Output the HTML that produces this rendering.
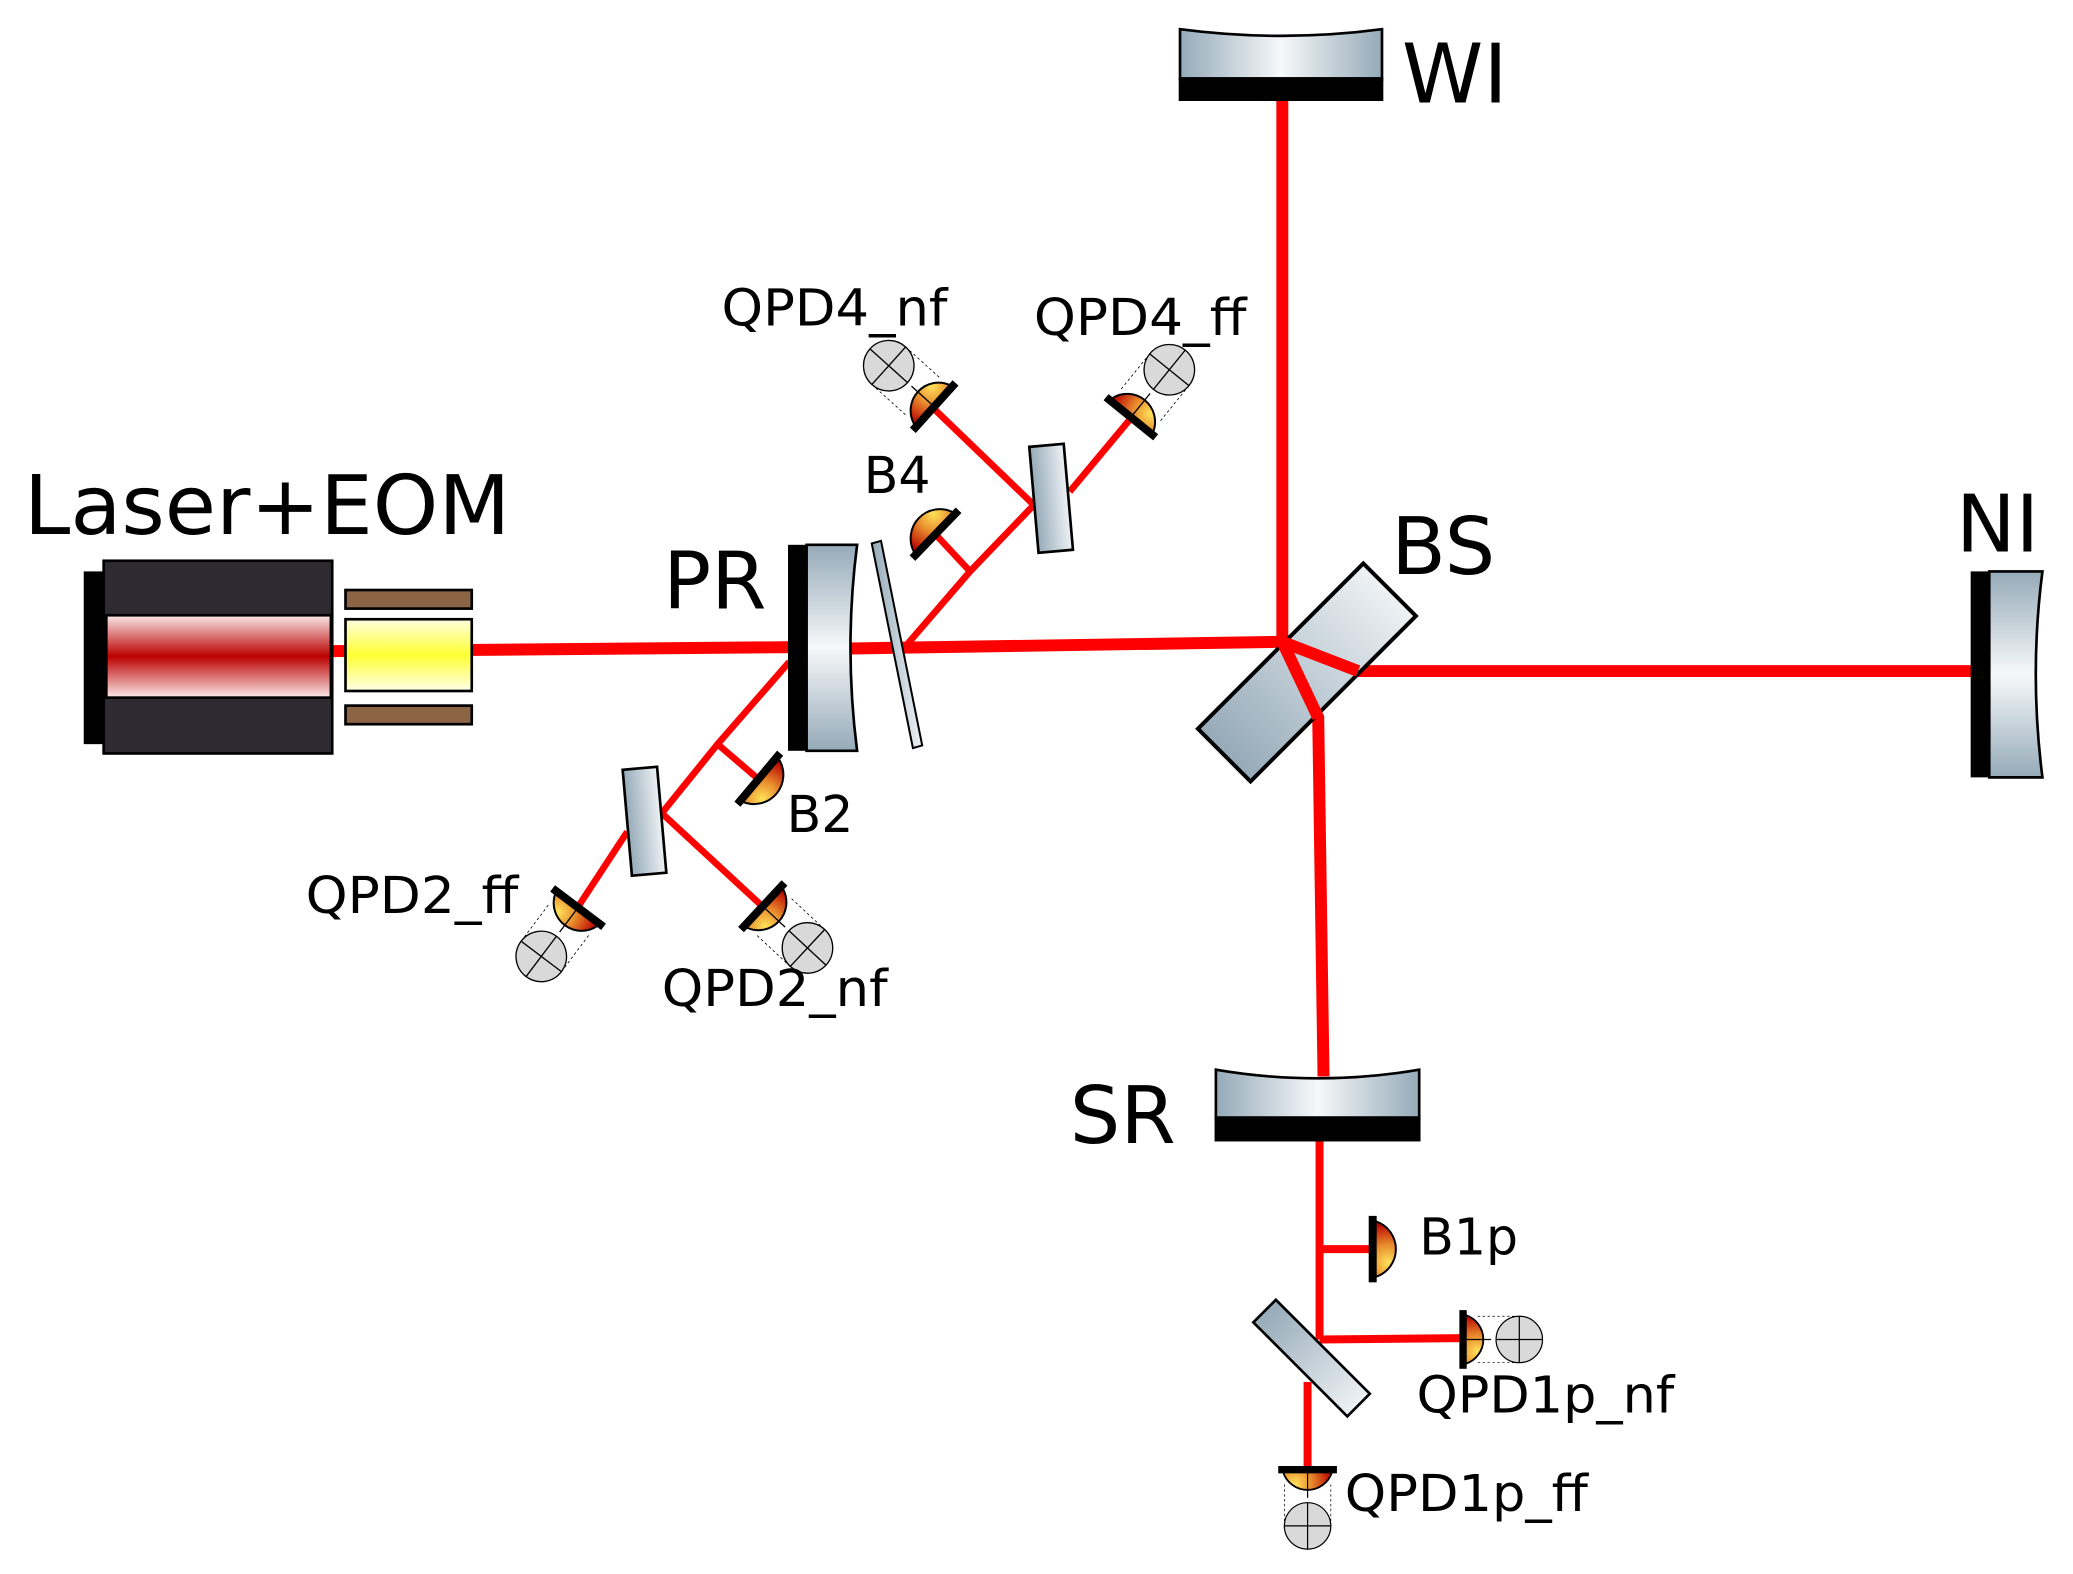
<!DOCTYPE html>
<html><head><meta charset="utf-8"><style>html,body{margin:0;padding:0;background:#fff}svg{display:block}</style></head>
<body>
<svg width="2073" height="1574" viewBox="0 0 1560 1184.5" xmlns="http://www.w3.org/2000/svg" font-family="'DejaVu Sans','Liberation Sans',sans-serif">
<defs>
<linearGradient id="glH" x1="0" x2="1" y1="0" y2="0"><stop offset="0" stop-color="#95aab8"/><stop offset="0.5" stop-color="#f6f8fa"/><stop offset="1" stop-color="#95aab8"/></linearGradient>
<linearGradient id="glV" x1="0" x2="0" y1="0" y2="1"><stop offset="0" stop-color="#95aab8"/><stop offset="0.5" stop-color="#f6f8fa"/><stop offset="1" stop-color="#95aab8"/></linearGradient>
<linearGradient id="plate" x1="0" x2="1" y1="0" y2="0"><stop offset="0" stop-color="#95aab8"/><stop offset="1" stop-color="#eef2f5"/></linearGradient>
<linearGradient id="redstripe" x1="0" x2="0" y1="0" y2="1"><stop offset="0" stop-color="#fbeaea"/><stop offset="0.5" stop-color="#bb0000"/><stop offset="1" stop-color="#fbeaea"/></linearGradient>
<linearGradient id="yel" x1="0" x2="0" y1="0" y2="1"><stop offset="0" stop-color="#ffffe0"/><stop offset="0.5" stop-color="#ffff33"/><stop offset="1" stop-color="#ffffe8"/></linearGradient>
<radialGradient id="det" gradientUnits="userSpaceOnUse" cx="10" cy="10" r="30" fx="12" fy="10"><stop offset="0" stop-color="#ffe35a"/><stop offset="0.45" stop-color="#e88a2c"/><stop offset="1" stop-color="#b80000"/></radialGradient>
<g id="D"><path d="M2,-21 A22 22 0 0 1 2,21 Z" fill="url(#det)" stroke="#000" stroke-width="1.5"/><rect x="-3" y="-25" width="6" height="50" fill="#000"/></g>
<g id="Q"><path d="M2,-20 A21 21 0 0 1 2,20 Z" fill="url(#det)" stroke="#000" stroke-width="1.5"/><line x1="2" y1="0" x2="23" y2="0" stroke="#000" stroke-width="1"/><rect x="-3" y="-24" width="6" height="48" fill="#000"/>
<line x1="12" y1="-19" x2="46" y2="-19" stroke="#000" stroke-width="0.6" stroke-dasharray="2,2"/><line x1="12" y1="19" x2="46" y2="19" stroke="#000" stroke-width="0.6" stroke-dasharray="2,2"/>
<circle cx="46" cy="0" r="19" fill="#d9d9d9" stroke="#000" stroke-width="1"/>
<line x1="27" y1="0" x2="65" y2="0" stroke="#000" stroke-width="1"/><line x1="46" y1="-19" x2="46" y2="19" stroke="#000" stroke-width="1"/></g>
</defs>

<!-- beams -->
<g stroke="#ff0000" fill="none" stroke-linejoin="miter">
<line x1="250" y1="490" x2="598" y2="487" stroke-width="9"/>
<line x1="640" y1="488" x2="965" y2="483" stroke-width="9"/>
<line x1="965" y1="76" x2="965" y2="483" stroke-width="9"/>
<polyline points="965,483 1022,505 1486,505" stroke-width="9"/>
<polyline points="965,483 992,540 996,810" stroke-width="9"/>
<line x1="993" y1="858" x2="993" y2="1008" stroke-width="6"/>
<line x1="993" y1="940" x2="1032" y2="940" stroke-width="6"/>
<line x1="993" y1="1008" x2="1100" y2="1007" stroke-width="6"/>
<line x1="984" y1="1040" x2="984" y2="1105" stroke-width="6"/>
<polyline points="680,488 730,430 778,380" stroke-width="5"/>
<line x1="730" y1="430" x2="702" y2="400" stroke-width="5"/>
<line x1="778" y1="380" x2="697" y2="302" stroke-width="5"/>
<line x1="805" y1="370" x2="855" y2="310" stroke-width="5"/>
<polyline points="594,498 540,560 498,612" stroke-width="5"/>
<line x1="540" y1="560" x2="575" y2="590" stroke-width="5"/>
<line x1="498" y1="612" x2="578" y2="686" stroke-width="5"/>
<line x1="472" y1="626" x2="430" y2="690" stroke-width="5"/>
</g>

<!-- Laser + EOM -->
<rect x="63" y="430" width="16" height="130" fill="#000"/>
<rect x="78" y="422" width="172" height="145" fill="#2e2a32" stroke="#000" stroke-width="2"/>
<rect x="80" y="463" width="169" height="62" fill="url(#redstripe)" stroke="#000" stroke-width="2"/>
<rect x="260" y="444" width="95" height="14" fill="#8b6446" stroke="#000" stroke-width="2"/>
<rect x="260" y="531" width="95" height="14" fill="#8b6446" stroke="#000" stroke-width="2"/>
<rect x="260" y="466" width="95" height="54" fill="url(#yel)" stroke="#000" stroke-width="2"/>
<text x="18" y="402" font-size="62" textLength="366" lengthAdjust="spacingAndGlyphs">Laser+EOM</text>

<!-- PR -->
<rect x="593" y="410" width="15" height="155" fill="#000"/>
<path d="M607,410 L645,410 Q635,487 645,565 L607,565 Z" fill="url(#glV)" stroke="#000" stroke-width="2"/>
<polygon points="656,409 663,407 694,561 687,563" fill="url(#plate)" stroke="#000" stroke-width="1.5"/>
<text x="499" y="458" font-size="60">PR</text>

<!-- WI -->
<path d="M888,22 Q964,32 1040,22 L1040,60 L888,60 Z" fill="url(#glH)" stroke="#000" stroke-width="2"/>
<rect x="887" y="58" width="154" height="18" fill="#000"/>
<text x="1055" y="77" font-size="62">WI</text>

<!-- BS -->
<g transform="translate(983.5,506) rotate(-45)">
<rect x="-88" y="-28" width="176" height="56" fill="url(#plate)" stroke="#000" stroke-width="3"/>
</g>
<polyline points="965,483 1022,505" stroke="#ff0000" stroke-width="9" fill="none"/>
<polyline points="965,483 992,540" stroke="#ff0000" stroke-width="9" fill="none"/>
<text x="1047" y="432" font-size="60">BS</text>

<!-- NI -->
<rect x="1483" y="430" width="15" height="155" fill="#000"/>
<path d="M1497,430 L1537,430 Q1527,507 1537,585 L1497,585 Z" fill="url(#glV)" stroke="#000" stroke-width="2"/>
<text x="1472" y="415" font-size="60">NI</text>

<!-- SR -->
<path d="M915,805 Q991,818 1068,805 L1068,842 L915,842 Z" fill="url(#glH)" stroke="#000" stroke-width="2"/>
<rect x="914" y="840" width="155" height="19" fill="#000"/>
<text x="805" y="860" font-size="60">SR</text>

<!-- pickoff plates -->
<g transform="translate(791,375) rotate(-5)"><rect x="-13" y="-40" width="26" height="80" fill="url(#plate)" stroke="#000" stroke-width="2"/></g>
<g transform="translate(485,618) rotate(-5)"><rect x="-13" y="-40" width="26" height="80" fill="url(#plate)" stroke="#000" stroke-width="2"/></g>
<g transform="translate(987,1022) rotate(45)"><rect x="-50" y="-12" width="100" height="24" fill="url(#plate)" stroke="#000" stroke-width="2"/></g>

<!-- detectors -->
<use href="#D" transform="translate(704,402) rotate(-136)"/>
<use href="#Q" transform="translate(703,306) rotate(-138)"/>
<use href="#Q" transform="translate(851,314) rotate(-51)"/>
<use href="#D" transform="translate(571,586) rotate(40)"/>
<use href="#Q" transform="translate(574,682) rotate(43)"/>
<use href="#Q" transform="translate(435,683) rotate(127)"/>
<use href="#D" transform="translate(1033,940)"/>
<use href="#Q" transform="translate(1101,1008) scale(0.92)"/>
<use href="#Q" transform="translate(984,1106) rotate(90) scale(0.92)"/>

<g font-size="38">
<text x="543" y="245" textLength="170" lengthAdjust="spacingAndGlyphs">QPD4_nf</text>
<text x="778" y="252" textLength="160" lengthAdjust="spacingAndGlyphs">QPD4_ff</text>
<text x="650" y="371">B4</text>
<text x="592" y="626">B2</text>
<text x="230" y="687" textLength="160" lengthAdjust="spacingAndGlyphs">QPD2_ff</text>
<text x="498" y="757" textLength="170" lengthAdjust="spacingAndGlyphs">QPD2_nf</text>
<text x="1068" y="944">B1p</text>
<text x="1066" y="1063" textLength="194" lengthAdjust="spacingAndGlyphs">QPD1p_nf</text>
<text x="1012" y="1137" textLength="183" lengthAdjust="spacingAndGlyphs">QPD1p_ff</text>
</g>
</svg>
</body></html>
